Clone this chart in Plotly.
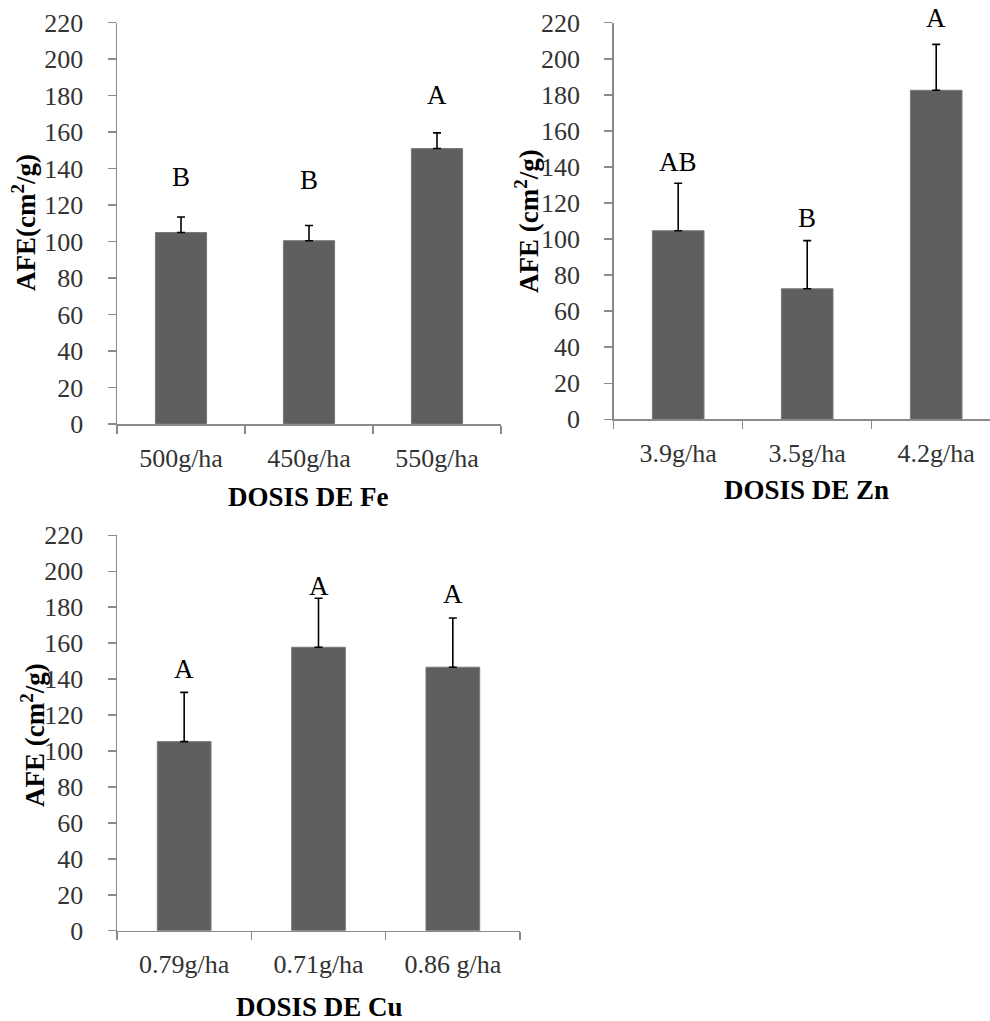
import plotly.graph_objects as go

# ---------------- data ----------------
fe_cats = ["500g/ha", "450g/ha", "550g/ha"]
fe_vals = [105, 100.5, 151]
fe_err = [8.5, 8.3, 8.6]
fe_letters = ["B", "B", "A"]
fe_letter_y = [135.5, 133.8, 180.5]

zn_cats = ["3.9g/ha", "3.5g/ha", "4.2g/ha"]
zn_vals = [104.6, 72.4, 182.5]
zn_err = [26.3, 26.7, 25.5]
zn_letters = ["AB", "B", "A"]
zn_letter_y = [142.5, 111.8, 222.4]

cu_cats = ["0.79g/ha", "0.71g/ha", "0.86 g/ha"]
cu_vals = [105.2, 157.7, 146.6]
cu_err = [27.4, 27.3, 27.4]
cu_letters = ["A", "A", "A"]
cu_letter_y = [145.5, 191.8, 187.2]

y_ticks = list(range(0, 221, 20))
Y_MAX = 220

# ---------------- layout helpers ----------------
W, H = 990, 1021
OFF = 0  # page body margin removed via post_script
FONT = "Liberation Serif, Times New Roman, serif"
BAR = "#5f5f5f"
AXIS = "#8a8a8a"


def dx(a, b):
    return [(a - OFF) / W, min((b - OFF) / W, 1.0)]


def dy(top, bottom):
    return [1 - (bottom - OFF) / H, 1 - (top - OFF) / H]


def px(x, y):
    return (x - OFF) / W, 1 - (y - OFF) / H


panels = [
    dict(cats=fe_cats, vals=fe_vals, err=fe_err, letters=fe_letters, ly=fe_letter_y,
         xd=dx(117, 501), yd=dy(22.7, 424), xr=[-0.5, 2.5],
         ytitle="AFE(cm<sup>2</sup>/g)", ytx=24, yty=223,
         xtitle="DOSIS DE Fe", xtx=308, xty=497),
    dict(cats=zn_cats, vals=zn_vals, err=zn_err, letters=zn_letters, ly=zn_letter_y,
         xd=dx(613.7, 990), yd=dy(22.7, 419.3), xr=[-0.5, 2.417],
         ytitle="AFE (cm<sup>2</sup>/g)", ytx=527, yty=221,
         xtitle="DOSIS DE Zn", xtx=806, xty=490),
    dict(cats=cu_cats, vals=cu_vals, err=cu_err, letters=cu_letters, ly=cu_letter_y,
         xd=dx(117, 520), yd=dy(535.3, 930.7), xr=[-0.5, 2.5],
         ytitle="AFE (cm<sup>2</sup>/g)", ytx=33, yty=735,
         xtitle="DOSIS DE Cu", xtx=319, xty=1007),
]

fig = go.Figure()
annotations = []

for i, p in enumerate(panels, start=1):
    sfx = "" if i == 1 else str(i)
    fig.add_trace(go.Bar(
        x=p["cats"], y=p["vals"], width=0.4,
        marker=dict(color=BAR, line=dict(color="#7a7a7a", width=1)),
        error_y=dict(type="data", array=p["err"], arrayminus=[0] * len(p["err"]),
                     symmetric=False, color="black", thickness=1.6, width=4),
        xaxis="x" + sfx, yaxis="y" + sfx, showlegend=False, hoverinfo="skip",
    ))
    fig.layout["xaxis" + sfx] = dict(
        domain=p["xd"], anchor="y" + sfx, type="category", range=p["xr"],
        showline=True, linecolor=AXIS, linewidth=1.5,
        ticks="outside", tickson="boundaries", ticklen=8, tickcolor=AXIS, tickwidth=1.5,
        showgrid=False, zeroline=False, automargin=False,
        tickfont=dict(family=FONT, size=26, color="#333333"),
        ticklabelstandoff=10,
    )
    fig.layout["yaxis" + sfx] = dict(
        domain=p["yd"], anchor="x" + sfx, range=[0, Y_MAX],
        tickvals=y_ticks, ticktext=[str(t) for t in y_ticks],
        showline=True, linecolor=AXIS, linewidth=1.5,
        ticks="outside", ticklen=8, tickcolor=AXIS, tickwidth=1.5,
        showgrid=False, zeroline=False, automargin=False,
        tickfont=dict(family=FONT, size=26, color="#333333"),
        ticklabelstandoff=19,
    )
    # significance letters (y in axis-domain units so values above range stay visible)
    for c, lab, yv in zip(p["cats"], p["letters"], p["ly"]):
        annotations.append(dict(
            x=c, y=yv / Y_MAX, xref="x" + sfx, yref="y" + sfx + " domain",
            text=lab, showarrow=False, xanchor="center", yanchor="middle",
            font=dict(family=FONT, size=27, color="black"),
        ))
    # axis titles
    tx, ty = px(p["ytx"], p["yty"])
    annotations.append(dict(
        x=tx, y=ty, xref="paper", yref="paper",
        text="<b>" + p["ytitle"] + "</b>", textangle=-90, showarrow=False,
        xanchor="center", yanchor="middle",
        font=dict(family=FONT, size=27, color="black"),
    ))
    tx, ty = px(p["xtx"], p["xty"])
    annotations.append(dict(
        x=tx, y=ty, xref="paper", yref="paper",
        text="<b>" + p["xtitle"] + "</b>", showarrow=False,
        xanchor="center", yanchor="middle",
        font=dict(family=FONT, size=27, color="black"),
    ))

fig.update_layout(
    width=W, height=H,
    margin=dict(l=0, r=0, t=0, b=0, autoexpand=False),
    paper_bgcolor="white", plot_bgcolor="white",
    annotations=annotations,
)

fig.write_html("out.html",
               config={"displayModeBar": False, "staticPlot": True},
               post_script="document.body.style.margin='0';document.body.style.overflow='hidden';")
